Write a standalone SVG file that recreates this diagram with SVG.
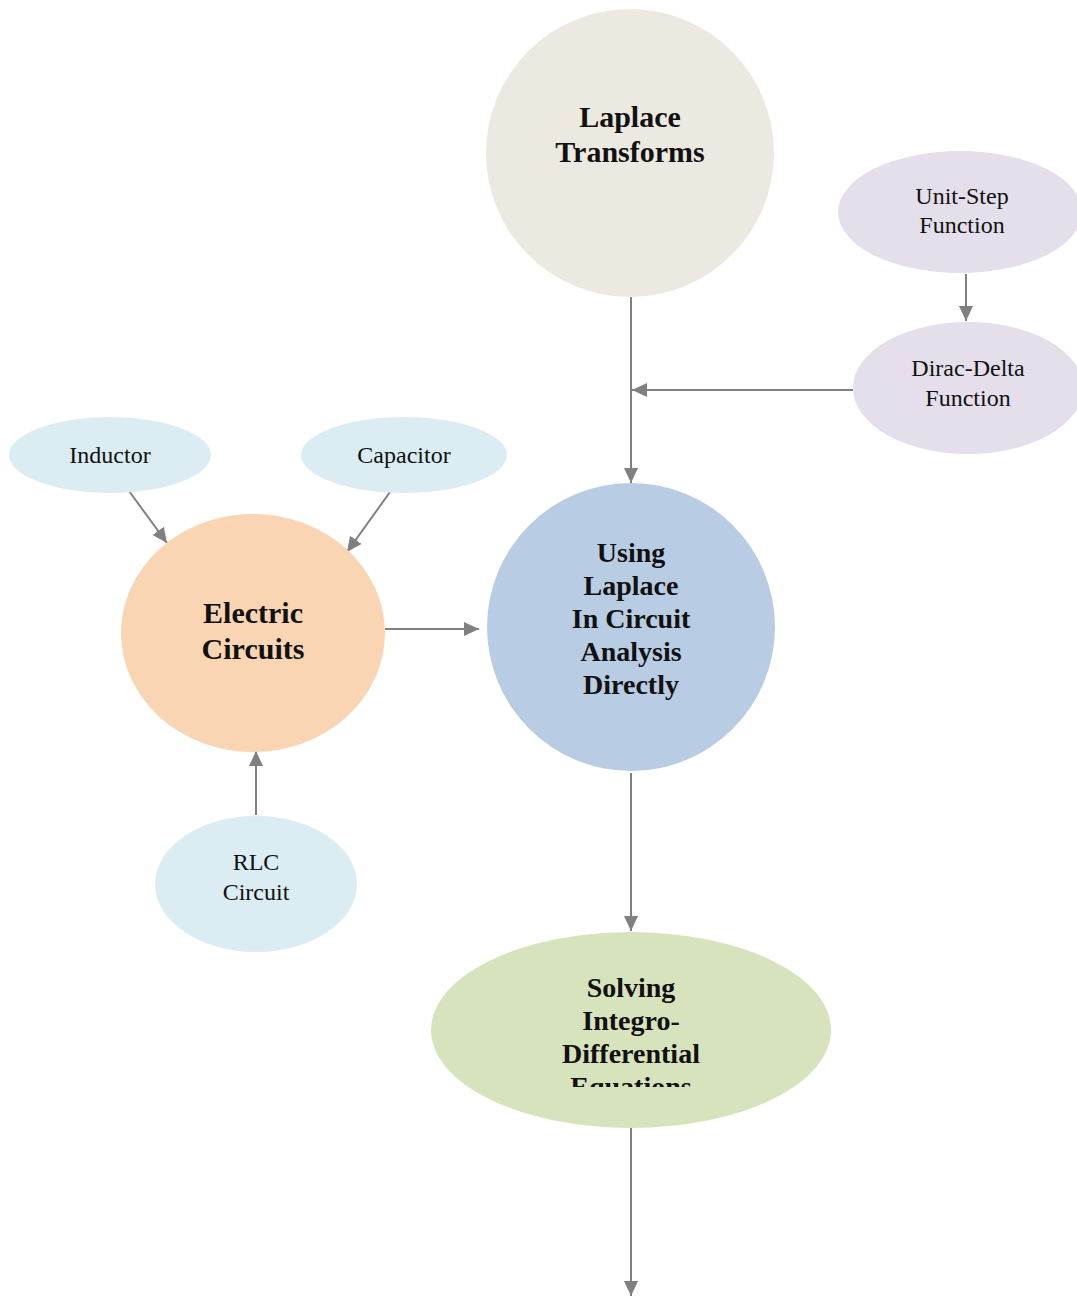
<svg xmlns="http://www.w3.org/2000/svg" width="1077" height="1296" viewBox="0 0 1077 1296">
<style>
.b{font-family:"Liberation Serif","Times New Roman",serif;font-weight:bold;fill:#111;text-anchor:middle}
.r{font-family:"Liberation Serif","Times New Roman",serif;font-size:24px;fill:#111;text-anchor:middle}
.e{stroke:#808080;stroke-width:2;fill:none}
</style>
<defs>
<marker id="ah" markerWidth="15" markerHeight="14" refX="15" refY="7" orient="auto" markerUnits="userSpaceOnUse">
<path d="M0,0 L15,7 L0,14 Z" fill="#808080"/>
</marker>
<clipPath id="solClip"><rect x="431" y="940" width="400" height="147"/></clipPath>
</defs>
<rect width="1077" height="1296" fill="#fff"/>
<g id="connectors">
<line class="e" x1="631" y1="297" x2="631" y2="483" marker-end="url(#ah)"/>
<line class="e" x1="853" y1="390" x2="632" y2="390" marker-end="url(#ah)"/>
<line class="e" x1="966" y1="274" x2="966" y2="321" marker-end="url(#ah)"/>
<line class="e" x1="129" y1="491" x2="167" y2="543" marker-end="url(#ah)"/>
<line class="e" x1="390" y1="492" x2="347" y2="552" marker-end="url(#ah)"/>
<line class="e" x1="385" y1="629" x2="479" y2="629" marker-end="url(#ah)"/>
<line class="e" x1="256" y1="815" x2="256" y2="751" marker-end="url(#ah)"/>
<line class="e" x1="631" y1="773" x2="631" y2="931" marker-end="url(#ah)"/>
<line class="e" x1="631" y1="1128" x2="631" y2="1296" marker-end="url(#ah)"/>
</g>
<g id="laplace">
<circle cx="630" cy="153" r="144" fill="#ECEAE0"/>
<text class="b" font-size="30" x="630" y="127">Laplace</text>
<text class="b" font-size="30" x="630" y="162">Transforms</text>
</g>
<g id="unitstep">
<ellipse cx="960" cy="212" rx="122" ry="61" fill="#E4DFEB"/>
<text class="r" x="962" y="204">Unit-Step</text>
<text class="r" x="962" y="233">Function</text>
</g>
<g id="dirac">
<ellipse cx="968" cy="388" rx="115" ry="66" fill="#E4DFEB"/>
<text class="r" x="968" y="376">Dirac-Delta</text>
<text class="r" x="968" y="406">Function</text>
</g>
<g id="inductor">
<ellipse cx="110" cy="455" rx="101" ry="38" fill="#DBEDF3"/>
<text class="r" x="110" y="463">Inductor</text>
</g>
<g id="capacitor">
<ellipse cx="404" cy="455" rx="103" ry="38" fill="#DBEDF3"/>
<text class="r" x="404" y="463">Capacitor</text>
</g>
<g id="electric">
<ellipse cx="253" cy="633" rx="132" ry="119" fill="#FAD5B3"/>
<text class="b" font-size="30" x="253" y="623">Electric</text>
<text class="b" font-size="30" x="253" y="659">Circuits</text>
</g>
<g id="using">
<circle cx="631" cy="627" r="144" fill="#B8CCE4"/>
<text class="b" font-size="28" x="631" y="562">Using</text>
<text class="b" font-size="28" x="631" y="595">Laplace</text>
<text class="b" font-size="28" x="631" y="628">In Circuit</text>
<text class="b" font-size="28" x="631" y="661">Analysis</text>
<text class="b" font-size="28" x="631" y="694">Directly</text>
</g>
<g id="rlc">
<ellipse cx="256" cy="884" rx="101" ry="68" fill="#DBEDF3"/>
<text class="r" x="256" y="870">RLC</text>
<text class="r" x="256" y="900">Circuit</text>
</g>
<g id="solving">
<ellipse cx="631" cy="1030" rx="200" ry="98" fill="#D7E3BD"/>
<g clip-path="url(#solClip)">
<text class="b" font-size="28" x="631" y="997">Solving</text>
<text class="b" font-size="28" x="631" y="1030">Integro-</text>
<text class="b" font-size="28" x="631" y="1063">Differential</text>
<text class="b" font-size="28" x="631" y="1096">Equations</text>
</g>
</g>
</svg>
